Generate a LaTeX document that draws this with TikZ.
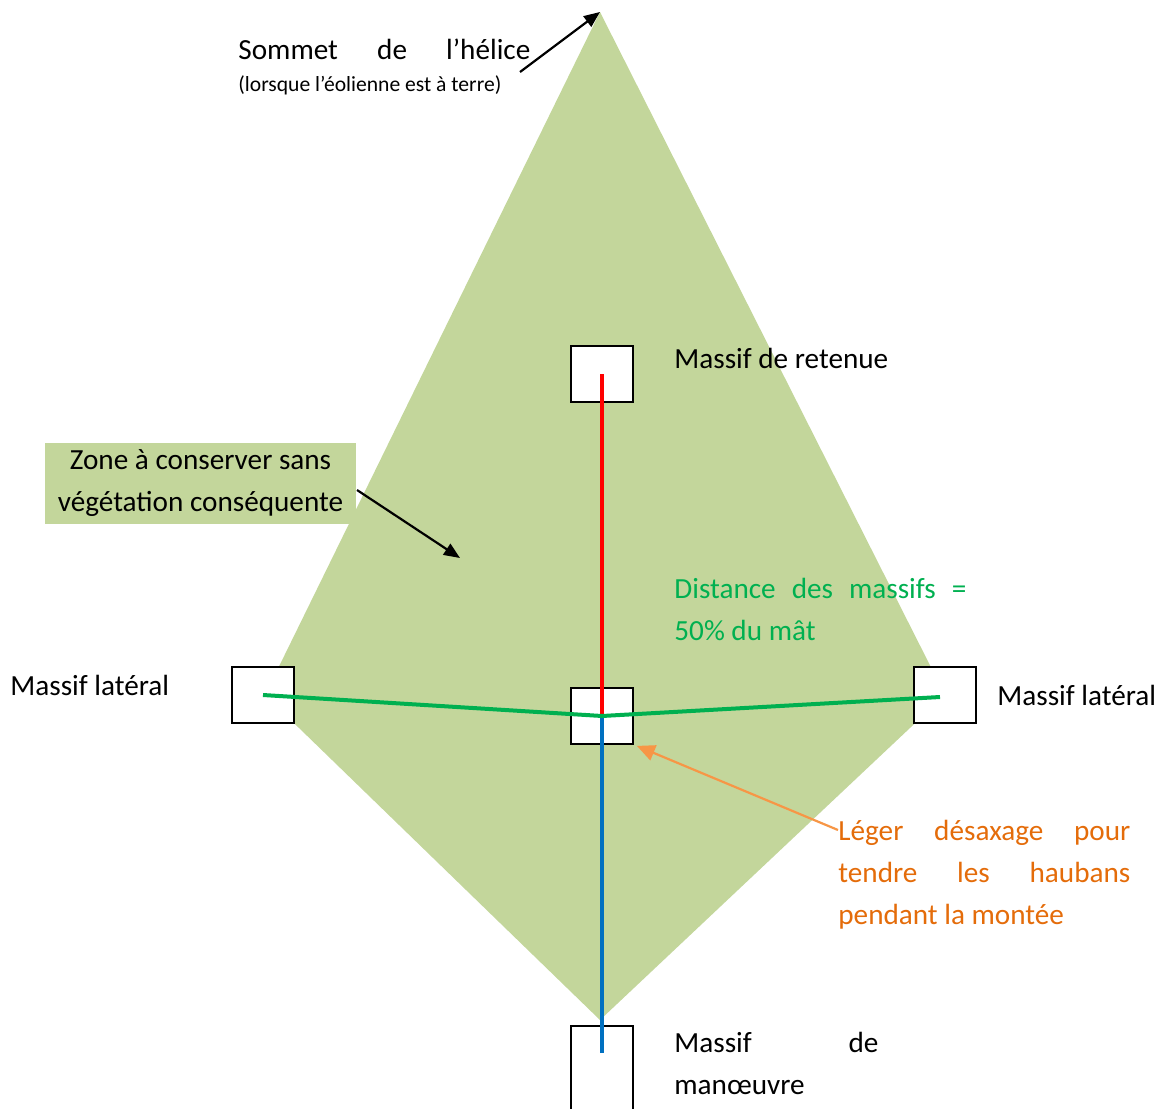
\documentclass[tikz,border=0pt]{standalone}
\usepackage{fontspec}
\setmainfont{Carlito}
\usetikzlibrary{arrows.meta}
\definecolor{zonegreen}{RGB}{195,214,155}
\definecolor{guygreen}{RGB}{0,176,80}
\definecolor{guyblue}{RGB}{0,112,192}
\definecolor{noteorange}{RGB}{228,108,10}
\definecolor{arroworange}{RGB}{247,150,70}
\begin{document}
\begin{tikzpicture}[x=0.5pt, y=-0.5pt,
        massif/.style={draw, line width=0.9pt, fill=white, minimum width=31pt, minimum height=28pt, inner sep=0pt},
        label/.style={anchor=base west, inner sep=0pt, font=\fontsize{14.6}{21}\selectfont},
        arrow/.style={-{Triangle[length=8pt, width=6.5pt]}, line width=1.1pt},
        guy/.style={line width=2pt}
    ]
        \useasboundingbox (0,0) rectangle (1169,1109);

        % zone a conserver
        \coordinate (top) at (600,12);
        \coordinate (right) at (945,695);
        \coordinate (bottom) at (600,1020);
        \coordinate (left) at (265,695);
        \fill[zonegreen] (top) -- (right) -- (bottom) -- (left) -- cycle;

        % massifs
        \node[massif] (retenue) at (602,374) {};
        \node[massif] (mat) at (602,716) {};
        \node[massif] (latG) at (263,695) {};
        \node[massif] (latD) at (945,695) {};
        \node[massif, minimum height=50pt] (manoeuvre) at (602,1076) {};

        % haubans
        \coordinate (blueend) at (602,1053);
        \coordinate (greenend) at (940,697);
        \draw[guy, red] (retenue.center) -- (mat.center);
        \draw[guy, guyblue] (mat.center) -- (blueend);
        \draw[guy, guygreen] (latG.center) -- (mat.center) -- (greenend);

        % textes (base = derniere ligne)
        \node[label] (sommet) at (238,59) {\makebox[146pt][s]{Sommet de l’hélice}};
        \node[label, font=\fontsize{10.8}{13}\selectfont] (terre) at (238,91) {(lorsque l’éolienne est à terre)};
        \node[label] (txtretenue) at (674,368) {Massif de retenue};
        \node[label] (txtlatG) at (10,695) {Massif latéral};
        \node[label] (txtlatD) at (997,705) {Massif latéral};
        \node[label, align=left, text=guygreen] (distance) at (674,640)
            {\makebox[146pt][s]{Distance des massifs =}\\50\% du mât};
        \node[label, align=left, text=noteorange] (desaxage) at (838,924)
            {\makebox[146pt][s]{Léger désaxage pour}\\\makebox[146pt][s]{tendre les haubans}\\pendant la montée};
        \node[label, align=left] (txtmanoeuvre) at (674,1094)
            {\makebox[102pt][s]{Massif de}\\manœuvre};
        \node[fill=zonegreen, minimum width=155.5pt, minimum height=40.5pt, align=center, inner sep=0pt,
            font=\fontsize{14.6}{21}\selectfont] (zone) at (200.5,483.5)
            {Zone à conserver sans\\végétation conséquente};

        % fleches
        \coordinate (sommetfrom) at (520,72);
        \coordinate (zonefrom) at (357,490);
        \coordinate (zoneto) at (460,558);
        \coordinate (desaxagefrom) at (838,830);
        \draw[arrow] (sommetfrom) -- (top);
        \draw[arrow] (zonefrom) -- (zoneto);
        \draw[arrow, arroworange, -{Triangle[length=9pt, width=8pt]}] (desaxagefrom) -- ([shift={(3,1)}]mat.south east);
    \end{tikzpicture}
\end{document}
